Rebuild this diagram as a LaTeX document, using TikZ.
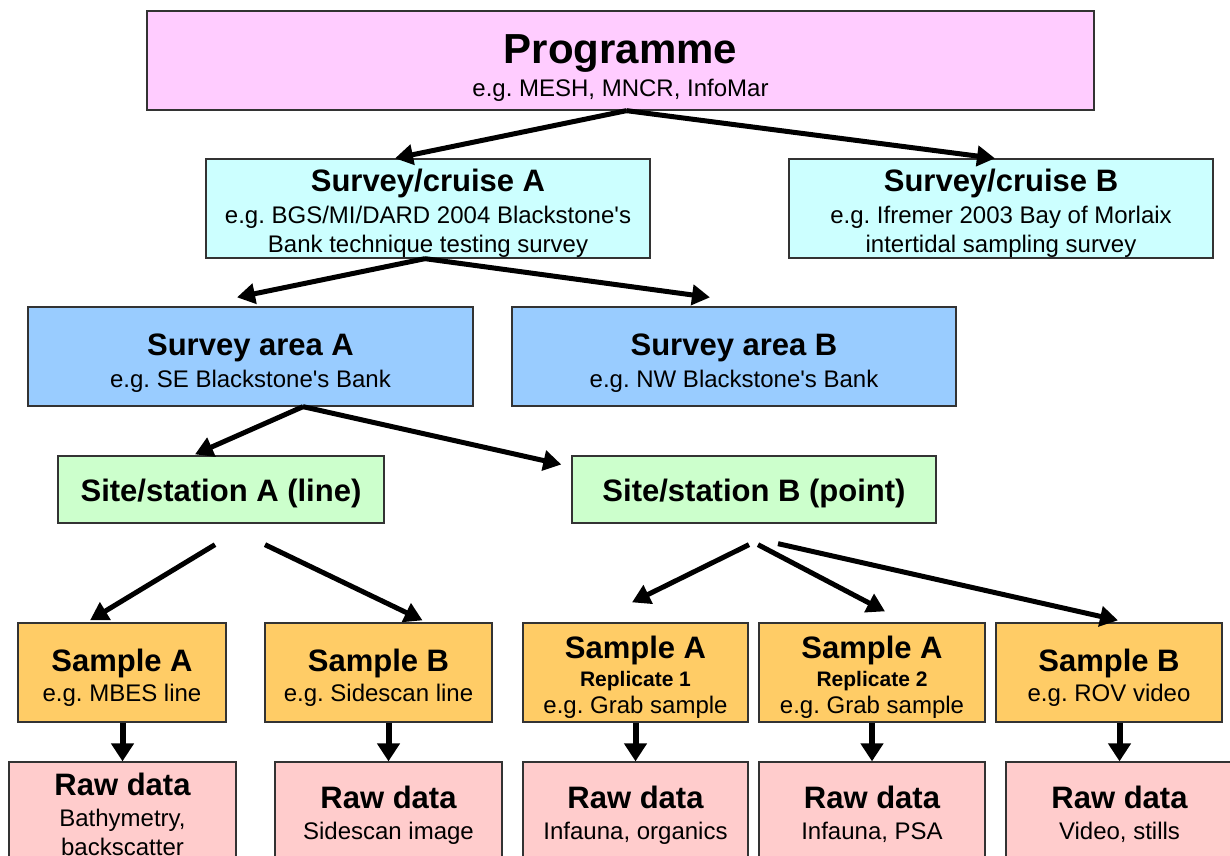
\documentclass[tikz,border=0pt]{standalone}
\usepackage{fontspec}
\setmainfont{Liberation Sans}
\usetikzlibrary{arrows.meta}
\frenchspacing

\definecolor{progpink}{HTML}{FFCCFF}
\definecolor{cruisecyan}{HTML}{CCFFFF}
\definecolor{areablue}{HTML}{99CCFF}
\definecolor{sitegreen}{HTML}{CCFFCC}
\definecolor{sampleorange}{HTML}{FFCC66}
\definecolor{rawpink}{HTML}{FFCCCC}
\newcommand{\hd}{\fontsize{31}{34}\selectfont\bfseries}
\newcommand{\repl}{\fontsize{21}{24}\selectfont\bfseries}
\newcommand{\lift}[1]{\rule{0pt}{#1pt}}

\begin{document}
\begin{tikzpicture}[x=1pt,y=-1pt,
  box/.style={draw=black!80, line width=1.3pt, align=center, inner sep=0pt,
    font=\fontsize{24}{29}\selectfont},
  link/.style={line width=5pt, -{Triangle[length=18pt,width=20pt]}},
  drop/.style={line width=6pt, -{Triangle[length=18pt,width=22pt]}}]
  \useasboundingbox (0,0) rectangle (1230,855);

  % Programme
  \node[box, fill=progpink, minimum width=947pt, minimum height=99pt] (prog) at (620.5,60.5)
    {{\fontsize{42}{44}\selectfont\bfseries\lift{44}Programme}\\[4pt] e.g. MESH, MNCR, InfoMar};

  % Surveys
  \node[box, fill=cruisecyan, minimum width=444pt, minimum height=99pt] (cruiseA) at (428,208.5)
    {{\hd\lift{32}Survey/cruise A}\\[3pt]e.g. BGS/MI/DARD 2004 Blackstone\textquotesingle s\\Bank technique testing survey};
  \node[box, fill=cruisecyan, minimum width=424pt, minimum height=99pt] (cruiseB) at (1001,208.5)
    {{\hd\lift{32}Survey/cruise B}\\[3pt]e.g. Ifremer 2003 Bay of Morlaix\\intertidal sampling survey};

  % Survey areas
  \node[box, fill=areablue, minimum width=445pt, minimum height=99pt] (areaA) at (250.5,356.5)
    {{\hd\lift{34}Survey area A}\\[3pt]e.g. SE Blackstone\textquotesingle s Bank};
  \node[box, fill=areablue, minimum width=444pt, minimum height=99pt] (areaB) at (734,356.5)
    {{\hd\lift{34}Survey area B}\\[3pt]e.g. NW Blackstone\textquotesingle s Bank};

  % Sites
  \node[box, fill=sitegreen, minimum width=326pt, minimum height=67pt] (siteA) at (221,489.5)
    {\hd\lift{31}Site/station A (line)};
  \node[box, fill=sitegreen, minimum width=364pt, minimum height=67pt] (siteB) at (754,489.5)
    {\hd\lift{31}Site/station B (point)};

  % Samples
  \node[box, fill=sampleorange, minimum width=208pt, minimum height=99pt] (sampA) at (122,672.5)
    {{\hd\lift{32}Sample A}\\[1pt]e.g. MBES line};
  \node[box, fill=sampleorange, minimum width=227pt, minimum height=99pt] (sampB) at (378.5,672.5)
    {{\hd\lift{32}Sample B}\\[1pt]e.g. Sidescan line};
  \node[box, fill=sampleorange, minimum width=225pt, minimum height=99pt] (repA) at (635.5,672.5)
    {{\hd\lift{32}Sample A}\\[-1pt]{\repl Replicate 1}\\[-2pt]e.g. Grab sample};
  \node[box, fill=sampleorange, minimum width=226pt, minimum height=99pt] (repB) at (872,672.5)
    {{\hd\lift{32}Sample A}\\[-1pt]{\repl Replicate 2}\\[-2pt]e.g. Grab sample};
  \node[box, fill=sampleorange, minimum width=226pt, minimum height=99pt] (rov) at (1109,672.5)
    {{\hd\lift{32}Sample B}\\[1pt]e.g. ROV video};

  % Raw data
  \node[box, fill=rawpink, minimum width=227pt, minimum height=99pt] (rawA) at (122.5,811.5)
    {{\hd\lift{29}Raw data}\\[2pt]Bathymetry,\\backscatter};
  \node[box, fill=rawpink, minimum width=227pt, minimum height=99pt] (rawB) at (388.5,811.5)
    {{\hd\lift{29}Raw data}\\[2pt]Sidescan image};
  \node[box, fill=rawpink, minimum width=225pt, minimum height=99pt] (rawC) at (635.5,811.5)
    {{\hd\lift{29}Raw data}\\[2pt]Infauna, organics};
  \node[box, fill=rawpink, minimum width=226pt, minimum height=99pt] (rawD) at (872,811.5)
    {{\hd\lift{29}Raw data}\\[2pt]Infauna, PSA};
  \node[box, fill=rawpink, minimum width=227pt, minimum height=99pt] (rawE) at (1119.5,811.5)
    {{\hd\lift{29}Raw data}\\[2pt]Video, stills};

  % Links down the hierarchy
  \draw[link] ([xshift=6pt]prog.south) -- ([xshift=-33pt]cruiseA.north);
  \draw[link] ([xshift=6pt]prog.south) -- ([xshift=-6pt]cruiseB.north);
  \draw[link] ([xshift=-3pt]cruiseA.south) -- ([xshift=-13.5pt,yshift=9pt]areaA.north);
  \draw[link] ([xshift=-3pt]cruiseA.south) -- ([xshift=-24pt,yshift=9pt]areaB.north);
  \draw[link] ([xshift=52.5pt]areaA.south) -- ([xshift=-26pt,yshift=1pt]siteA.north);
  \draw[link] ([xshift=52.5pt]areaA.south) -- ([xshift=-10pt,yshift=25pt]siteB.west);
  \draw[link] ([xshift=-6pt,yshift=-21pt]siteA.south) -- ([xshift=-32pt,yshift=2pt]sampA.north);
  \draw[link] ([xshift=44pt,yshift=-21pt]siteA.south) -- ([xshift=44pt,yshift=2pt]sampB.north);
  \draw[link] ([xshift=-5pt,yshift=-21pt]siteB.south) -- ([xshift=-3.5pt,yshift=20pt]repA.north);
  \draw[link] ([xshift=4pt,yshift=-21pt]siteB.south) -- ([xshift=13pt,yshift=11pt]repB.north);
  \draw[link] ([xshift=24pt,yshift=-20pt]siteB.south) -- ([xshift=9pt,yshift=2pt]rov.north);

  % Sample to raw data
  \foreach \s/\r in {sampA/rawA, sampB/rawB, repA/rawC, repB/rawD, rov/rawE}
    \draw[drop] (\s.south -| \r.north) -- (\r.north);
\end{tikzpicture}
\end{document}
